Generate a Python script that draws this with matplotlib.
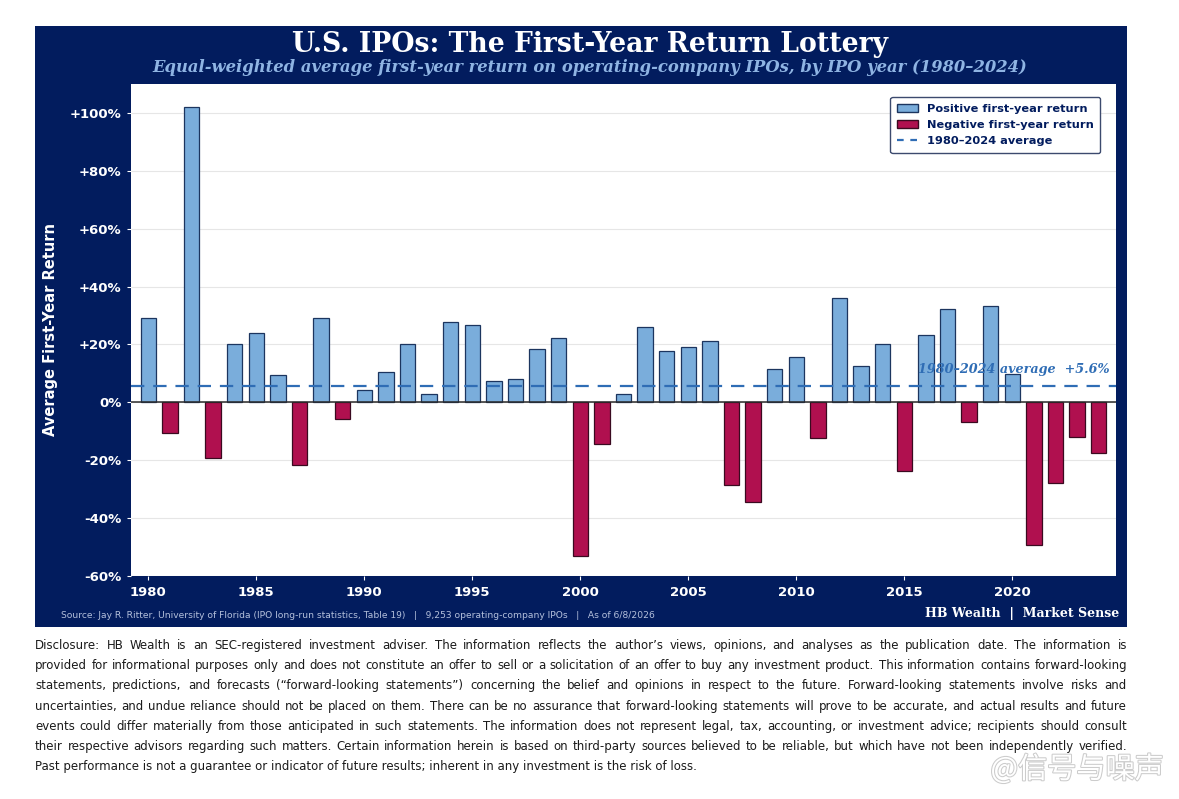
import matplotlib
matplotlib.use("Agg")
import matplotlib.pyplot as plt
import matplotlib.patheffects as pe
from matplotlib.patches import Patch
from matplotlib.lines import Line2D

# data (equal-weighted first-year return, %)
years = list(range(1980, 2025))
returns = [29.0, -10.5, 102.0, -19.1, 20.0, 23.8, 9.3, -21.5, 29.0, -5.6,
           4.1, 10.5, 20.3, 3.0, 27.9, 26.6, 7.3, 7.9, 18.3, 22.3,
           -53.2, -14.3, 3.0, 25.9, 17.9, 19.1, 21.3, -28.4, -34.5, 11.4,
           15.8, -12.2, 35.9, 12.7, 20.3, -23.8, 23.3, 32.4, -6.9, 33.2,
           9.9, -49.2, -27.8, -11.8, -17.4]
avg_return = 5.6
y_ticks = [-60, -40, -20, 0, 20, 40, 60, 80, 100]
x_ticks = [1980, 1985, 1990, 1995, 2000, 2005, 2010, 2015, 2020]

NAVY = "#021c5e"
POS = "#7aaddb"
NEG = "#b0104f"
AVG = "#2f6db5"

W, H = 1179, 799
fig = plt.figure(figsize=(W / 100, H / 100), dpi=100)
fig.patch.set_facecolor("white")

# navy panel behind the chart
bg = fig.add_axes([35 / W, 1 - 627 / H, (1127 - 35) / W, (627 - 26) / H], zorder=-5)
bg.set_facecolor(NAVY)
bg.set_xticks([])
bg.set_yticks([])
for s in bg.spines.values():
    s.set_visible(False)

ax = fig.add_axes([131 / W, 1 - 576 / H, (1116 - 131) / W, (576 - 84) / H], zorder=1)
ax.set_facecolor("white")

pos_x = [y for y, r in zip(years, returns) if r >= 0]
pos_v = [r for r in returns if r >= 0]
neg_x = [y for y, r in zip(years, returns) if r < 0]
neg_v = [r for r in returns if r < 0]
ax.bar(pos_x, pos_v, width=0.72, color=POS, edgecolor="#1c355f", linewidth=0.9, zorder=3)
ax.bar(neg_x, neg_v, width=0.72, color=NEG, edgecolor="#3a0a20", linewidth=0.9, zorder=3)

ax.axhline(0, color="#2b2b2b", linewidth=1.1, zorder=4)
ax.axhline(avg_return, color=AVG, linewidth=1.6, linestyle=(0, (6, 4)), zorder=5)
ax.text(2024.5, avg_return + 3.5, "1980\u20132024 average  +5.6%", ha="right", va="bottom",
        family="DejaVu Serif", style="italic", fontweight="bold", fontsize=9.2,
        color=AVG, zorder=6)

ax.set_xlim(1979.2, 2024.8)
ax.set_ylim(-60, 110)
ax.set_yticks(y_ticks)
ax.set_yticklabels([("+%d%%" % v) if v > 0 else ("%d%%" % v) for v in y_ticks])
ax.set_xticks(x_ticks)
ax.grid(axis="y", color="#e6e6e6", linewidth=0.8, zorder=0)
ax.set_axisbelow(True)
for s in ax.spines.values():
    s.set_visible(False)
ax.tick_params(colors="white", length=3, labelsize=9.5, pad=4)
for lab in ax.get_xticklabels() + ax.get_yticklabels():
    lab.set_fontweight("bold")
    lab.set_color("white")
ax.set_ylabel("Average First-Year Return", color="white", fontsize=10.5,
              fontweight="bold", labelpad=8)

handles = [Patch(facecolor=POS, edgecolor="#1c355f", label="Positive first-year return"),
           Patch(facecolor=NEG, edgecolor="#3a0a20", label="Negative first-year return"),
           Line2D([0], [0], color=AVG, lw=1.6, linestyle=(0, (3, 3)), label="1980\u20132024 average")]
leg = ax.legend(handles=handles, loc="upper right", bbox_to_anchor=(0.99, 0.985),
                frameon=True, fancybox=True, fontsize=8.2, handlelength=1.8,
                borderpad=0.6, labelspacing=0.55, edgecolor="#3c4a6e", framealpha=1)
leg.get_frame().set_linewidth(1.0)
leg.set_zorder(10)
for t in leg.get_texts():
    t.set_color(NAVY)
    t.set_fontweight("bold")

fig.text(590 / W, 1 - 44 / H, "U.S. IPOs: The First-Year Return Lottery", ha="center", va="center",
         family="DejaVu Serif", fontweight="bold", fontsize=19.2, color="white")
fig.text(590 / W, 1 - 68 / H,
         "Equal-weighted average first-year return on operating-company IPOs, by IPO year (1980\u20132024)",
         ha="center", va="center", family="DejaVu Serif", style="italic", fontweight="bold",
         fontsize=11.8, color="#8fb4e3")
fig.text(61 / W, 1 - 615 / H,
         "Source: Jay R. Ritter, University of Florida (IPO long-run statistics, Table 19)   |   "
         "9,253 operating-company IPOs   |   As of 6/8/2026",
         ha="left", va="center", fontsize=6.6, color="#b4c0dc")
fig.text(1119 / W, 1 - 613 / H, "HB Wealth  |  Market Sense", ha="right", va="center",
         family="DejaVu Serif", fontweight="bold", fontsize=9, color="white")

# disclosure paragraph, justified line by line
disc_lines = [
    "Disclosure: HB Wealth is an SEC-registered investment adviser. The information reflects the author\u2019s views, opinions, and analyses as the publication date. The information is",
    "provided for informational purposes only and does not constitute an offer to sell or a solicitation of an offer to buy any investment product. This information contains forward-looking",
    "statements, predictions, and forecasts (\u201cforward-looking statements\u201d) concerning the belief and opinions in respect to the future. Forward-looking statements involve risks and",
    "uncertainties, and undue reliance should not be placed on them. There can be no assurance that forward-looking statements will prove to be accurate, and actual results and future",
    "events could differ materially from those anticipated in such statements. The information does not represent legal, tax, accounting, or investment advice; recipients should consult",
    "their respective advisors regarding such matters. Certain information herein is based on third-party sources believed to be reliable, but which have not been independently verified.",
    "Past performance is not a guarantee or indicator of future results; inherent in any investment is the risk of loss.",
]
renderer = fig.canvas.get_renderer()
x0, x1 = 35, 1127
fs = 8.5
for i, line in enumerate(disc_lines):
    yy = 1 - (649 + i * 20.2) / H
    words = line.split(" ")
    if i == len(disc_lines) - 1:
        fig.text(x0 / W, yy, line, ha="left", va="baseline", fontsize=fs, color="#1a1a1a")
        continue
    arts = [fig.text(0, yy, w, ha="left", va="baseline", fontsize=fs, color="#1a1a1a") for w in words]
    widths = [a.get_window_extent(renderer).width for a in arts]
    gap = (x1 - x0 - sum(widths)) / (len(words) - 1)
    cx = x0
    for a, w in zip(arts, widths):
        a.set_x(cx / W)
        cx += w + gap

# watermark
fig.text(1077 / W, 1 - 770 / H, "@信号与噪声", ha="center", va="center", fontsize=21,
         family=["Noto Sans CJK SC", "DejaVu Sans"], color="white",
         path_effects=[pe.withStroke(linewidth=1.5, foreground="#cccccc")])

fig.savefig("out.png", dpi=100, facecolor=fig.get_facecolor())
